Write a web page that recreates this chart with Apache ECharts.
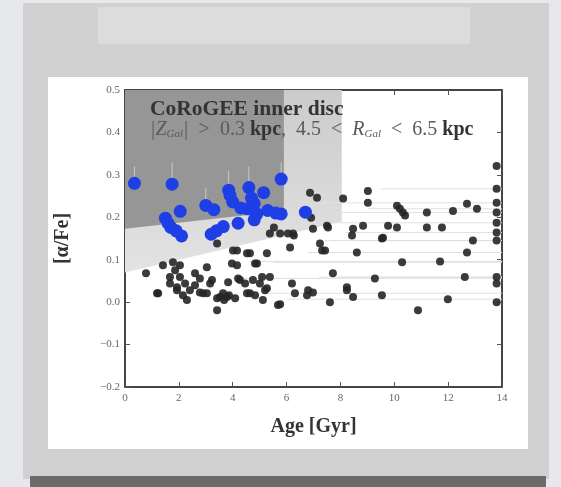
<!DOCTYPE html>
<html>
<head>
<meta charset="utf-8">
<style>
  html, body { margin: 0; padding: 0; background: #e6e8eb; }
  #chart { width: 561px; height: 487px; }
</style>
<script src="https://cdn.jsdelivr.net/npm/echarts@6/dist/echarts.min.js"></script>
</head>
<body>
<div id="chart"></div>
<script>
// Axis ticks
const xTicks = [0, 2, 4, 6, 8, 10, 12, 14];
const yTicks = [-0.2, -0.1, 0.0, 0.1, 0.2, 0.3, 0.4, 0.5];

// Selection regions in (age, [alpha/Fe]) space
const regionLight = [[0, 0.07], [8.05, 0.19], [8.05, 0.5], [0, 0.5]];
const regionDark = [[0, 0.173], [5.9, 0.215], [5.9, 0.5], [0, 0.5]];

// CoRoGEE inner-disc stars: [age, alpha/Fe]
const coroStars = [
  [0.35, 0.28], [1.75, 0.278], [5.8, 0.29], [3.85, 0.264], [4.6, 0.27],
  [5.15, 0.258], [3.0, 0.228], [3.3, 0.218], [2.05, 0.214], [1.5, 0.198],
  [1.7, 0.176], [2.1, 0.156], [1.6, 0.186], [4.0, 0.236], [3.9, 0.252],
  [4.55, 0.22], [4.8, 0.232], [4.9, 0.208], [5.3, 0.216], [5.8, 0.208],
  [6.7, 0.212], [3.4, 0.168], [3.65, 0.178], [4.2, 0.186], [4.8, 0.194],
  [4.3, 0.222], [5.6, 0.21], [3.2, 0.16], [1.9, 0.168], [4.7, 0.245]
];

// Upper [alpha/Fe] error of a few CoRoGEE stars: [age, alpha/Fe, upper]
const coroErr = [
  [1.75, 0.278, 0.33], [3.85, 0.264, 0.31], [4.6, 0.27, 0.32],
  [0.35, 0.28, 0.32], [5.8, 0.29, 0.33], [3.0, 0.228, 0.27]
];

// Comparison sample: [age, alpha/Fe]
const fieldStars = [
  [0.78, 0.068], [1.19, 0.021], [1.41, 0.087], [1.78, 0.094], [1.67, 0.044],
  [1.93, 0.028], [2.04, 0.059], [2.30, 0.005], [2.60, 0.068], [3.04, 0.082],
  [3.23, 0.052], [3.04, 0.021], [3.42, 0.009], [3.42, -0.019], [3.64, 0.021],
  [3.79, 0.012], [3.97, 0.091], [4.16, 0.122], [4.20, 0.056], [4.46, 0.044],
  [4.53, 0.021], [4.64, 0.115], [4.83, 0.091], [4.75, 0.052], [5.09, 0.059],
  [5.20, 0.028], [5.27, 0.115], [5.38, 0.059], [5.68, -0.007], [5.38, 0.162],
  [5.76, 0.162], [6.13, 0.129], [6.20, 0.044], [6.31, 0.021], [6.76, 0.016],
  [6.98, 0.023], [7.24, 0.138], [7.43, 0.122], [7.72, 0.068], [7.61, 0.0],
  [8.24, 0.028], [8.47, 0.012], [8.43, 0.157], [8.61, 0.117], [9.28, 0.056],
  [9.54, 0.016], [9.58, 0.152], [10.29, 0.094], [10.88, -0.019], [11.70, 0.096],
  [11.99, 0.007], [12.62, 0.059], [12.70, 0.117], [12.92, 0.145], [13.8, 0.0],
  [13.8, 0.059], [13.8, 0.044], [13.8, 0.145], [13.8, 0.164], [13.8, 0.321],
  [13.8, 0.267], [13.8, 0.234], [13.8, 0.211], [13.8, 0.187], [6.87, 0.258],
  [7.13, 0.246], [8.10, 0.244], [9.02, 0.262], [9.02, 0.234], [10.10, 0.227],
  [10.32, 0.211], [11.21, 0.211], [12.18, 0.215], [12.70, 0.232], [13.07, 0.220],
  [6.98, 0.173], [7.50, 0.180], [8.47, 0.173], [9.54, 0.150], [10.10, 0.176],
  [11.21, 0.176], [11.77, 0.176], [6.05, 0.162], [6.27, 0.157], [7.32, 0.122],
  [7.54, 0.176], [8.84, 0.180], [9.77, 0.180], [10.21, 0.220], [10.40, 0.204],
  [8.24, 0.035], [6.80, 0.028], [5.76, -0.005], [5.27, 0.033], [5.01, 0.044],
  [4.64, 0.021], [4.27, 0.052], [4.16, 0.087], [4.90, 0.091], [4.53, 0.115],
  [4.01, 0.122], [3.42, 0.138], [2.90, 0.021], [3.16, 0.044], [3.53, 0.012],
  [2.04, 0.087], [1.93, 0.035], [1.67, 0.059], [1.23, 0.021], [5.53, 0.176],
  [6.91, 0.199], [6.24, 0.162], [2.15, 0.016], [2.41, 0.028], [2.23, 0.044],
  [1.86, 0.075], [2.60, 0.040], [2.78, 0.023], [3.68, 0.005], [3.86, 0.016],
  [4.09, 0.009], [4.83, 0.016], [5.12, 0.005], [3.83, 0.047], [2.78, 0.056]
];

// Age errors of the oldest comparison stars: [age, alpha/Fe, lower age]
const fieldErr = [
  [13.8, 0.267, 9.5], [13.8, 0.234, 7.0], [13.8, 0.211, 7.8], [13.8, 0.187, 6.5],
  [13.8, 0.164, 8.2], [13.8, 0.145, 7.4], [13.8, 0.059, 8.0], [13.8, 0.021, 5.2],
  [12.70, 0.117, 6.8], [11.70, 0.096, 4.6], [12.62, 0.059, 7.2], [11.99, 0.007, 6.0],
  [10.29, 0.094, 5.5], [9.28, 0.056, 4.0], [12.92, 0.145, 8.6], [13.07, 0.220, 9.0]
];

const serif = '"Liberation Serif", "DejaVu Serif", serif';

const chart = echarts.init(document.getElementById('chart'), null, { renderer: 'canvas' });

const regions = [
  {
    pts: regionLight,
    color: new echarts.graphic.LinearGradient(0, 0, 0, 1, [
      { offset: 0, color: '#cbcbcb' },
      { offset: 1, color: '#e3e3e3' }
    ])
  },
  { pts: regionDark, color: '#969696' }
];

const axisCommon = {
  type: 'value',
  axisLine: { show: true, onZero: false, lineStyle: { color: '#3a3a3a', width: 1.5 } },
  axisTick: { show: true, inside: true, length: 5, lineStyle: { color: '#555' } },
  splitLine: { show: false }
};

chart.setOption({
  animation: false,
  backgroundColor: '#e6e8eb',
  grid: { left: 125, right: 59, top: 90, bottom: 100, show: true, borderColor: '#3a3a3a', borderWidth: 1.5, backgroundColor: 'transparent' },
  xAxis: [
    Object.assign({}, axisCommon, {
      min: xTicks[0], max: xTicks[xTicks.length - 1], interval: 2, position: 'bottom',
      axisLabel: { color: '#666', fontFamily: serif, fontSize: 11, margin: 6 },
      name: 'Age [Gyr]', nameLocation: 'middle', nameGap: 30,
      nameTextStyle: { color: '#333', fontFamily: serif, fontSize: 20, fontWeight: 'bold' }
    }),
    Object.assign({}, axisCommon, {
      min: xTicks[0], max: xTicks[xTicks.length - 1], interval: 2, position: 'top',
      axisLabel: { show: false }
    })
  ],
  yAxis: [
    Object.assign({}, axisCommon, {
      min: yTicks[0], max: yTicks[yTicks.length - 1], interval: 0.1, position: 'left',
      axisLabel: {
        color: '#666', fontFamily: serif, fontSize: 11, margin: 5,
        formatter: v => (v < 0 ? '\u2212' + Math.abs(v).toFixed(1) : v.toFixed(1))
      },
      name: '[\u03b1/Fe]', nameLocation: 'middle', nameGap: 52, nameRotate: 90,
      nameTextStyle: { color: '#333', fontFamily: serif, fontSize: 20, fontWeight: 'bold' }
    }),
    Object.assign({}, axisCommon, {
      min: yTicks[0], max: yTicks[yTicks.length - 1], interval: 0.1, position: 'right',
      axisLabel: { show: false }
    })
  ],
  graphic: [
    // slide card behind the figure
    { type: 'rect', z: -10, shape: { x: 23, y: 3, width: 526, height: 476 }, style: { fill: '#d1d1d1' } },
    { type: 'rect', z: -9, shape: { x: 98, y: 7, width: 372, height: 37 }, style: { fill: '#dcdcdc' } },
    { type: 'rect', z: -9, shape: { x: 48, y: 77, width: 480, height: 372 }, style: { fill: '#ffffff' } },
    { type: 'rect', z: -9, shape: { x: 30, y: 476, width: 516, height: 11 }, style: { fill: '#6b6b6b' } },
    // annotation
    {
      type: 'text', z: 50, left: 150, top: 98,
      style: { text: 'CoRoGEE inner disc', font: 'bold 21.5px ' + serif, fill: '#333' }
    },
    {
      type: 'text', z: 50, left: 150, top: 120,
      style: {
        text: '{i||Z}{s|Gal}{i||}{n|  >  0.3 }{b|kpc}{n|,  4.5  <  }{i|R}{s|Gal}{n|  <  6.5 }{b|kpc}',
        rich: {
          i: { font: 'italic 20px ' + serif, fill: '#5a5a5a' },
          n: { font: '20px ' + serif, fill: '#5a5a5a' },
          b: { font: 'bold 20px ' + serif, fill: '#333' },
          s: { font: 'italic 11px ' + serif, fill: '#5a5a5a', verticalAlign: 'bottom', padding: [9, 0, 0, 0] }
        }
      }
    }
  ],
  series: [
    {
      type: 'custom', z: 1, silent: true,
      data: regions.map((r, i) => i),
      renderItem: (params, api) => {
        const r = regions[params.dataIndex];
        return {
          type: 'polygon',
          shape: { points: r.pts.map(p => api.coord(p)) },
          style: { fill: r.color }
        };
      },
      clip: true
    },
    {
      type: 'custom', z: 2, silent: true, data: fieldErr,
      renderItem: (params, api) => {
        const a = api.coord([api.value(2), api.value(1)]);
        const b = api.coord([14, api.value(1)]);
        return { type: 'line', shape: { x1: a[0], y1: a[1], x2: b[0], y2: b[1] }, style: { stroke: '#e0e0e0', lineWidth: 1 } };
      },
      clip: true
    },
    {
      type: 'custom', z: 2, silent: true, data: coroErr,
      renderItem: (params, api) => {
        const a = api.coord([api.value(0), api.value(1)]);
        const b = api.coord([api.value(0), api.value(2)]);
        return { type: 'line', shape: { x1: a[0], y1: a[1], x2: b[0], y2: b[1] }, style: { stroke: '#dedede', lineWidth: 1, opacity: 0.7 } };
      },
      clip: true
    },
    {
      type: 'scatter', z: 3, data: fieldStars, symbolSize: 8,
      itemStyle: { color: '#262626', opacity: 0.9 }
    },
    {
      type: 'scatter', z: 4, data: coroStars, symbolSize: 13,
      itemStyle: { color: '#1e3ee6', opacity: 1 }
    }
  ]
});
</script>
</body>
</html>
